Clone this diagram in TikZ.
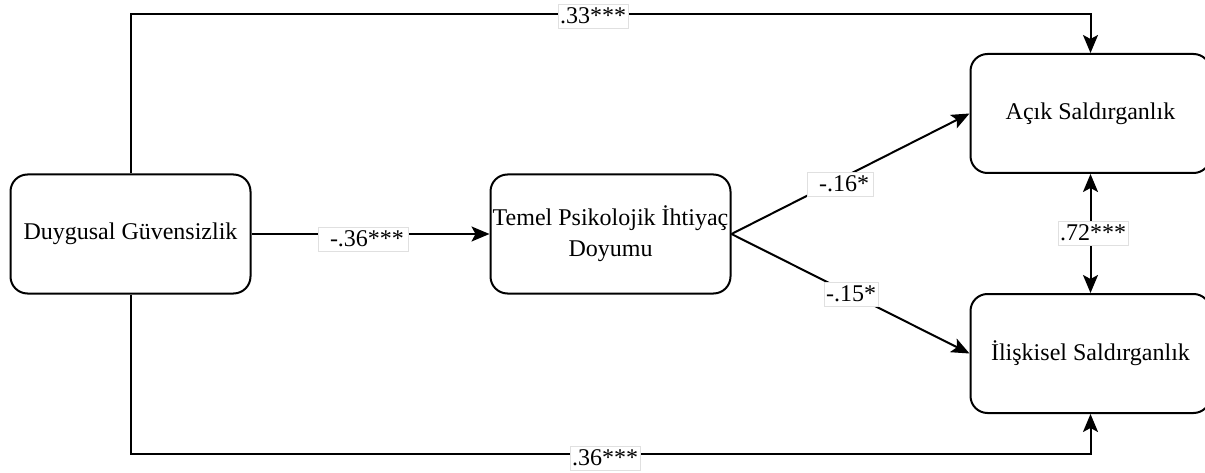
\documentclass[tikz,border=0pt]{standalone}
\usepackage{fontspec}
\setmainfont{Liberation Serif}
\usetikzlibrary{arrows.meta}
\begin{document}
\begin{tikzpicture}[x=1pt,y=-1pt,
  box/.style={draw=black,line width=2pt,rounded corners=17pt,minimum width=240pt,minimum height=119pt,align=center,font=\fontsize{24}{31}\selectfont,fill=white,inner sep=0pt},
  lab/.style={draw=black!12,fill=white,line width=0.6pt,inner xsep=2pt,inner ysep=4pt,font=\fontsize{24}{26}\selectfont},
  conn/.style={line width=2pt},
  arr/.style={conn,-{Stealth[length=18pt,width=15pt,inset=4pt]}},
  darr/.style={conn,{Stealth[length=18pt,width=15pt,inset=4pt]}-{Stealth[length=18pt,width=15pt,inset=4pt]}}]
\clip (0,0) rectangle (1205,473);
\fill[white] (0,0) rectangle (1205,473);
\node[box] (dg) at (130.5,234) {Duygusal Güvensizlik};
\node[box] (tp) at (610.5,234) {Temel Psikolojik İhtiyaç\\Doyumu};
\node[box] (as) at (1090.5,113.5) {Açık Saldırganlık};
\node[box] (is) at (1090.5,353.5) {İlişkisel Saldırganlık};
\coordinate (c1) at (130.5,14);
\coordinate (c2) at (1090.5,14);
\coordinate (c3) at (130.5,454);
\coordinate (c4) at (1090.5,454);
\draw[arr] (dg.north) -- (c1) -- (c2) -- (as.north);
\draw[arr] (dg.south) -- (c3) -- (c4) -- (is.south);
\draw[arr] (dg.east) -- (tp.west);
\draw[arr] (tp.east) -- (as.west);
\draw[arr] (tp.east) -- (is.west);
\draw[darr] (as.south) -- (is.north);
\node[lab] (l33) at (593,16) {.33***};
\node[lab] (l36b) at (605,458) {.36***};
\node[lab,inner xsep=4pt] (l36) at (363,239) {\hspace{8pt}-.36***};
\node[lab,inner xsep=4pt] (l16) at (840,184) {\hspace{8pt}-.16*};
\node[lab] (l15) at (851,294) {-.15*};
\node[lab] (l72) at (1093,233) {.72***};
\end{tikzpicture}
\end{document}
